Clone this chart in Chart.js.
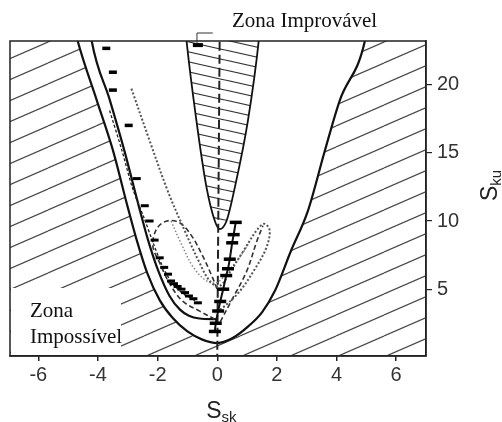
<!DOCTYPE html>
<html><head><meta charset="utf-8">
<script src="https://cdn.jsdelivr.net/npm/chart.js@4.4.1/dist/chart.umd.min.js"></script>
<style>html,body{margin:0;padding:0;background:#fff}#wrap{width:502px;height:422px;position:relative}</style>
</head><body><div id="wrap"><canvas id="c" width="502" height="422"></canvas></div>
<script>
// ---- data (Ssk, Sku) ----
const xTickValues = [-6, -4, -2, 0, 2, 4, 6];
const yTickValues = [5, 10, 15, 20];
const xRange = [-6.95, 7];
const yRange = [0.1, 23.2];

// limit of the impossible zone (hatched outside)
const impossibleBoundary = [[-7,26],[-4.98,26],[-4.68,23.2],[-4.04,18.85],[-3.5,15.2],[-3.0,11.0],[-2.7,8.6],[-2.35,6.2],[-1.93,4.2],[-1.5,2.9],[-1.0,1.9],[-0.5,1.3],[0,1.05],[0.5,1.4],[1.0,2.2],[1.5,3.3],[1.93,4.86],[2.47,7.8],[3.04,10.75],[3.61,15.17],[4.11,18.85],[4.95,23.2],[5.15,26],[7.2,26]];
// inner limit line on the left
const innerLimit = [[-4.38,26],[-4.21,23.2],[-3.6,18.85],[-3.12,15.2],[-2.62,11.0],[-2.32,8.6],[-1.97,6.3],[-1.6,4.5],[-1.25,3.5],[-0.95,3.05],[-0.6,2.85],[0,2.8]];
// improbable zone (hatched V)
const improbableZone = [[-1.15,26],[-1.03,23.2],[-0.70,17.38],[-0.36,12.47],[-0.08,10.0],[0.08,9.4],[0.31,10.0],[0.59,12.47],[1.03,17.38],[1.39,23.2],[1.5,26]];
const symmetryLine = [[0.08,26],[0.08,23.2],[0.0,0.1]];

const topLeftMarks = [[-3.72,22.66],[-3.5,20.91],[-3.5,19.6],[-2.97,17.01]];
const leftChainLine = [[-3.61,18.1],[-3.2,15.2],[-2.84,12.4],[-2.45,10.2],[-2.15,8.4],[-1.9,7.0],[-1.7,6.1],[-1.5,5.4],[-1.3,4.95],[-1.1,4.6],[-0.85,4.3],[-0.6,3.9]];
const leftMarks = [[-2.70,13.11],[-2.43,11.12],[-2.27,10.0],[-2.1,8.6],[-1.93,7.3],[-1.78,6.6],[-1.65,6.1],[-1.55,5.6],[-1.45,5.4],[-1.33,5.2],[-1.2,5.0],[-1.08,4.75],[-0.95,4.5],[-0.8,4.3],[-0.65,4.0]];
const rightChain = [[0.62,9.9],[0.55,9.0],[0.5,8.4],[0.42,7.2],[0.36,6.5],[0.3,6.0],[0.2,5.0],[0.1,4.1],[0.03,3.4],[-0.05,2.5],[-0.08,1.9]];
const vTopMark = [[-0.65,22.9]];

const dottedLoop = [[-2.88,19.71],[-2.27,15.9],[-1.66,12.2],[-1.09,9.28],[-0.59,6.92],[-0.25,5.6],[0.08,5.23],[0.49,6.48],[0.92,7.95],[1.36,9.43],[1.59,9.79],[1.76,9.28],[1.63,7.95],[1.26,6.48],[0.76,4.86],[0.25,3.76],[-0.08,3.24]];
const dashedLobe = [[-0.08,2.8],[-0.59,3.39],[-1.16,4.12],[-1.59,5.38],[-1.93,6.92],[-2.16,8.17],[-2.03,9.43],[-1.69,10.0],[-1.26,9.87],[-0.86,8.91],[-0.49,7.44],[-0.18,5.96],[0.02,4.86]];
const dashedRight = [[0.1,2.6],[0.52,4.34],[0.99,6.33],[1.33,8.54],[1.53,9.65]];
const lightDotted = [[-1.55,10.0],[-1.2,8.3],[-0.8,6.6],[-0.35,5.6],[0.0,5.5],[0.4,6.4],[0.9,7.8],[1.1,8.6]];

const pts = a => a.map(p => ({x: p[0], y: p[1]}));

const canvas = document.getElementById('c');
const mainCtx = canvas.getContext('2d');
function hatch(w, h, color, lw, down) {
  const t = document.createElement('canvas'); t.width = w; t.height = h;
  const g = t.getContext('2d'); g.strokeStyle = color; g.lineWidth = lw;
  for (const off of [-h, 0, h]) {
    g.beginPath();
    if (down) { g.moveTo(0, off); g.lineTo(w, h + off); }
    else { g.moveTo(0, h + off); g.lineTo(w, off); }
    g.stroke();
  }
  return mainCtx.createPattern(t, 'repeat');
}
const bigHatch = hatch(48, 21, '#4a4a4a', 1.2, false);
const vHatch = hatch(45, 10, '#333', 1.2, true);

const line = (data, o) => Object.assign({data: pts(data), pointRadius: 0, fill: false, borderColor: '#111', borderWidth: 1.5, tension: 0.35}, o);

const deco = {
  id: 'deco',
  afterDatasetsDraw(chart) {
    const {ctx, chartArea: a, scales: {x, y}} = chart;
    ctx.save();
    ctx.fillStyle = '#fff';
    ctx.fillRect(a.left + 1, 288, 110, a.bottom - 288 - 1);
    ctx.fillStyle = '#111';
    ctx.font = '21px "Liberation Serif"';
    ctx.textBaseline = 'alphabetic'; ctx.textAlign = 'left';
    ctx.fillText('Zona', 30, 317);
    ctx.fillText('Impossível', 30, 343);
    ctx.strokeStyle = '#222'; ctx.lineWidth = 1.5;
    ctx.strokeRect(a.left, a.top, a.right - a.left, a.bottom - a.top);
    // leader line of the improbable zone label
    const lx = x.getPixelForValue(-0.68), rx = x.getPixelForValue(-0.15);
    ctx.lineWidth = 1; ctx.strokeStyle = '#333';
    ctx.beginPath(); ctx.moveTo(lx, a.top + 2); ctx.lineTo(lx, a.top - 8); ctx.lineTo(rx, a.top - 8); ctx.stroke();
    ctx.fillStyle = '#111';
    ctx.font = '21px "Liberation Serif"';
    ctx.fillText('Zona Improvável', 232, 27);
    // axis titles with subscripts
    ctx.font = '23px "Liberation Sans"'; ctx.fillStyle = '#222';
    const cx = (x.getPixelForValue(0));
    ctx.fillText('S', cx - 11, 418);
    const sw = ctx.measureText('S').width;
    ctx.font = '15px "Liberation Sans"';
    ctx.fillText('sk', cx - 11 + sw, 422);
    ctx.translate(497, 201); ctx.rotate(-Math.PI / 2);
    ctx.font = '23px "Liberation Sans"';
    ctx.fillText('S', 0, 0);
    const sw2 = ctx.measureText('S').width;
    ctx.font = '15px "Liberation Sans"';
    ctx.fillText('ku', sw2, 4);
    ctx.restore();
  }
};

new Chart(canvas, {
  type: 'line',
  data: {
    datasets: [
      line(vTopMark, {showLine: false, pointStyle: 'line', pointRadius: 5, pointBorderWidth: 4, pointBorderColor: '#000'}),
      line(rightChain, {borderWidth: 2, borderColor: '#111', tension: 0.2, pointStyle: 'line', pointRadius: 6, pointBorderWidth: 3.5, pointBorderColor: '#000'}),
      line(topLeftMarks, {showLine: false, pointStyle: 'line', pointRadius: 4, pointBorderWidth: 3.5, pointBorderColor: '#000'}),
      line(leftMarks, {showLine: false, pointStyle: 'line', pointRadius: 4, pointBorderWidth: 3, pointBorderColor: '#000'}),
      line(leftChainLine, {borderWidth: 1.3, borderDash: [3, 2], borderColor: '#222', tension: 0.3}),
      line(dottedLoop, {borderWidth: 2, borderDash: [2, 2], borderColor: '#555'}),
      line(dashedLobe, {borderWidth: 1.6, borderDash: [5, 3], borderColor: '#333'}),
      line(dashedRight, {borderWidth: 1.6, borderDash: [5, 3], borderColor: '#333'}),
      line(lightDotted, {borderWidth: 1.5, borderDash: [1.5, 2], borderColor: '#888'}),
      line(symmetryLine, {borderWidth: 2, borderDash: [9, 4], borderColor: '#222', tension: 0}),
      line(innerLimit, {borderWidth: 2.2, borderColor: '#111', cubicInterpolationMode: 'monotone'}),
      line(improbableZone, {borderWidth: 1.8, borderColor: '#111', cubicInterpolationMode: 'monotone', fill: 'end', backgroundColor: vHatch}),
      line(impossibleBoundary, {borderWidth: 2.2, borderColor: '#111', cubicInterpolationMode: 'monotone', fill: 'start', backgroundColor: bigHatch})
    ]
  },
  options: {
    responsive: false,
    animation: false,
    events: [],
    layout: {padding: {top: 41, left: 10, right: 0, bottom: 0}},
    plugins: {legend: {display: false}, tooltip: {enabled: false}},
    scales: {
      x: {
        type: 'linear', position: 'bottom', min: xRange[0], max: xRange[1],
        afterBuildTicks: s => { s.ticks = xTickValues.map(v => ({value: v})); },
        afterFit: s => { s.height = 66; },
        grid: {drawOnChartArea: false, drawTicks: true, tickLength: 5, color: '#222', lineWidth: 1.5},
        border: {display: true, color: '#222', width: 1.5},
        ticks: {font: {family: 'Liberation Sans', size: 20}, color: '#333', padding: 2, maxRotation: 0, callback: v => String(v)}
      },
      y: {
        type: 'linear', position: 'right', min: yRange[0], max: yRange[1],
        afterBuildTicks: s => { s.ticks = yTickValues.map(v => ({value: v})); },
        afterFit: s => { s.width = 76; },
        grid: {drawOnChartArea: false, drawTicks: true, tickLength: 6, color: '#222', lineWidth: 1.2},
        border: {display: true, color: '#222', width: 1.5},
        ticks: {font: {family: 'Liberation Sans', size: 20}, color: '#333', padding: 5, callback: v => String(v)}
      }
    }
  },
  plugins: [deco]
});
</script></body></html>
